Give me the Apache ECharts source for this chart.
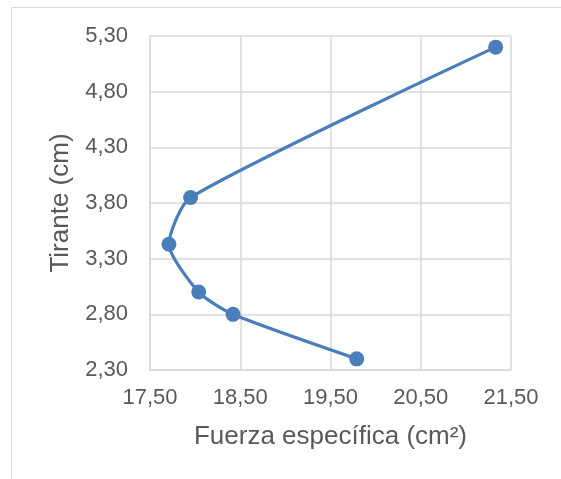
<!DOCTYPE html>
<html>
<head>
<meta charset="utf-8">
<script src="https://cdn.jsdelivr.net/npm/echarts@6/dist/echarts.min.js"></script>
<style>
html,body{margin:0;padding:0;background:#fff;}
#chart{width:561px;height:479px;}
</style>
</head>
<body>
<div id="chart"></div>
<script>
var fuerzaEspecifica = [19.79, 18.42, 18.04, 17.71, 17.95, 21.33];
var tirante = [2.40, 2.80, 3.00, 3.43, 3.85, 5.20];
var xTitle = 'Fuerza específica (cm²)';
var yTitle = 'Tirante (cm)';

var pts = fuerzaEspecifica.map(function (x, i) { return [x, tirante[i]]; });
var fmt = function (v) { return Number(v).toFixed(2).replace('.', ','); };

var chart = echarts.init(document.getElementById('chart'), null, {renderer: 'canvas'});
chart.setOption({
  animation: false,
  backgroundColor: '#fff',
  graphic: [{
    type: 'rect', shape: {x: 11.5, y: 7.5, width: 700, height: 700},
    style: {fill: 'none', stroke: '#d9d9d9', lineWidth: 1}, z: -10
  }],
  grid: {left: 150, right: 50, top: 36, bottom: 109, containLabel: false},
  xAxis: {
    type: 'value', min: 17.5, max: 21.5, interval: 1,
    name: xTitle, nameLocation: 'middle', nameGap: 54,
    nameTextStyle: {fontFamily: 'Liberation Sans, Arial', fontSize: 26, color: '#595959'},
    axisLine: {show: true, lineStyle: {color: '#d9d9d9', width: 1.5}},
    axisTick: {show: false},
    splitLine: {show: true, lineStyle: {color: '#d9d9d9', width: 1.5}},
    axisLabel: {formatter: fmt, margin: 17, fontFamily: 'Liberation Sans, Arial', fontSize: 22, color: '#595959'}
  },
  yAxis: {
    type: 'value', min: 2.3, max: 5.3, interval: 0.5,
    name: yTitle, nameLocation: 'middle', nameGap: 76, nameRotate: 90,
    nameTextStyle: {fontFamily: 'Liberation Sans, Arial', fontSize: 26, color: '#595959'},
    axisLine: {show: true, lineStyle: {color: '#d9d9d9', width: 1.5}},
    axisTick: {show: false},
    splitLine: {show: true, lineStyle: {color: '#d9d9d9', width: 1.5}},
    axisLabel: {formatter: fmt, margin: 22, fontFamily: 'Liberation Sans, Arial', fontSize: 22, color: '#595959'}
  },
  series: [{
    type: 'line', data: pts, smooth: 0.22,
    symbol: 'circle', symbolSize: 15, showSymbol: true,
    lineStyle: {color: '#4a7ebb', width: 3.2},
    itemStyle: {color: '#4a7ebb'}
  }]
});
</script>
</body>
</html>
